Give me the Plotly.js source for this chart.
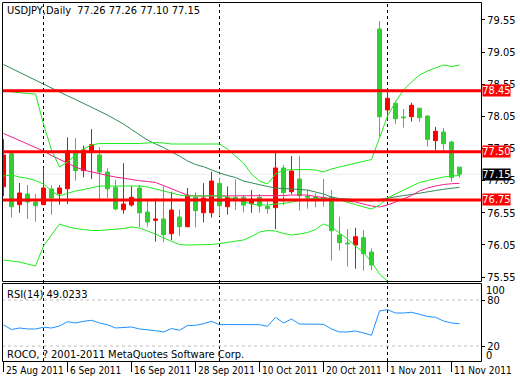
<!DOCTYPE html>
<html><head><meta charset="utf-8">
<script src="https://cdn.plot.ly/plotly-3.0.1.min.js"></script>
<style>html,body{margin:0;padding:0;background:#fff;}#chart{width:520px;height:380px;}</style>
</head><body><div id="chart"></div>
<script>
const dates = ['2011-08-25','2011-08-26','2011-08-29','2011-08-30','2011-08-31',
'2011-09-01','2011-09-02','2011-09-05','2011-09-06','2011-09-07','2011-09-08','2011-09-09',
'2011-09-12','2011-09-13','2011-09-14','2011-09-15','2011-09-16',
'2011-09-19','2011-09-20','2011-09-21','2011-09-22','2011-09-23',
'2011-09-26','2011-09-27','2011-09-28','2011-09-29','2011-09-30',
'2011-10-03','2011-10-04','2011-10-05','2011-10-06','2011-10-07',
'2011-10-10','2011-10-11','2011-10-12','2011-10-13','2011-10-14',
'2011-10-17','2011-10-18','2011-10-19','2011-10-20','2011-10-21',
'2011-10-24','2011-10-25','2011-10-26','2011-10-27','2011-10-28','2011-10-31',
'2011-11-01','2011-11-02','2011-11-03','2011-11-04',
'2011-11-07','2011-11-08','2011-11-09','2011-11-10','2011-11-11','2011-11-14'];

const open  = [76.955,77.469,76.676,76.842,76.717,76.676,76.920,76.847,76.924,77.500,
77.205,77.516,77.449,77.184,76.946,76.597,76.670,76.935,76.562,76.432,
76.453,76.224,76.484,76.333,76.790,76.550,76.550,77.008,76.644,76.790,
76.790,76.690,76.790,76.650,76.629,77.247,76.878,77.075,76.810,76.795,
76.790,76.790,76.204,76.079,76.048,76.162,75.939,79.410,78.149,78.254,
78.040,78.045,78.176,78.056,77.672,77.807,77.651,77.26];
const high  = [77.693,77.480,77.013,76.982,76.842,77.251,76.977,76.982,77.724,77.713,
77.594,77.853,77.573,77.242,77.060,77.320,76.966,76.982,76.764,76.775,
76.960,76.878,76.604,76.935,76.868,77.010,77.189,77.096,76.960,77.070,
76.826,76.904,76.842,76.744,77.485,77.293,77.433,77.433,76.904,76.850,
77.075,76.904,76.488,76.297,76.317,76.280,75.997,79.534,78.460,78.294,
78.165,78.263,78.185,78.067,77.885,77.869,77.667,77.26];
const low   = [76.810,76.479,76.550,76.453,76.410,76.670,76.520,76.676,76.686,77.049,
77.101,77.075,76.728,76.775,76.590,76.535,76.644,76.323,76.333,76.100,
76.090,76.126,76.190,76.323,76.323,76.400,76.473,76.499,76.520,76.593,
76.557,76.550,76.550,76.535,76.297,76.670,76.837,76.582,76.613,76.635,
76.644,75.804,75.960,75.710,75.680,75.648,75.659,77.734,77.990,77.931,
77.874,77.967,77.967,77.578,77.527,77.485,77.033,77.10];
const close = [77.449,76.644,76.857,76.717,76.660,76.935,76.780,76.935,77.516,77.205,
77.527,77.610,77.184,76.924,76.608,76.686,76.790,76.550,76.406,76.453,
76.208,76.593,76.333,76.815,76.582,76.780,77.044,76.660,76.790,76.770,
76.670,76.760,76.655,76.613,77.247,76.862,77.200,76.815,76.790,76.780,
76.760,76.270,76.084,76.068,76.177,75.913,75.737,78.045,78.331,78.014,
78.030,78.222,78.030,77.693,77.818,77.625,77.100,77.15];

const bbUpper = [78.445,78.429,78.422,78.406,78.398,77.931,77.527,77.262,77.340,77.449,
77.542,77.605,77.628,77.628,77.628,77.620,77.620,77.628,77.636,77.643,
77.636,77.620,77.620,77.620,77.620,77.620,77.628,77.620,77.542,77.433,
77.324,77.153,77.044,76.998,77.153,77.215,77.223,77.223,77.223,77.215,
77.184,77.231,77.262,77.293,77.324,77.356,77.379,77.713,78.056,78.274,
78.461,78.585,78.694,78.756,78.803,78.850,78.826,78.850];
const bbMiddle = [77.122,77.138,77.106,77.086,77.052,76.998,76.889,76.811,76.853,76.889,
76.912,76.943,76.966,76.966,76.966,76.959,76.966,76.966,76.951,76.920,
76.889,76.850,76.826,76.811,76.811,76.811,76.811,76.815,76.795,76.756,
76.717,76.686,76.671,76.671,76.686,76.694,76.717,76.741,76.764,76.772,
76.772,76.764,76.749,76.717,76.678,76.640,76.608,76.671,76.780,76.842,
76.904,76.966,77.021,77.052,77.083,77.106,77.122,77.130];
const bbLower = [75.815,75.799,75.783,75.752,75.721,76.033,76.204,76.375,76.333,76.305,
76.289,76.274,76.274,76.282,76.289,76.305,76.328,76.313,76.266,76.219,
76.157,76.103,76.056,76.048,76.048,76.048,76.056,76.071,76.087,76.103,
76.126,76.180,76.250,76.274,76.266,76.227,76.204,76.219,76.243,76.289,
76.375,76.328,76.235,76.142,76.033,75.931,75.783,75.597,75.488,75.41,
75.35,75.35,75.35,75.35,75.36,75.36,75.42,75.41];
const maSlow = [78.857,78.795,78.733,78.671,78.608,78.549,78.484,78.425,78.370,78.313,
78.254,78.196,78.126,78.071,78.001,77.931,77.846,77.760,77.682,77.620,
77.566,77.496,77.433,77.356,77.301,77.267,77.215,77.169,77.130,77.099,
77.044,77.013,76.982,76.959,76.935,76.928,76.920,76.912,76.904,76.873,
76.842,76.795,76.772,76.764,76.756,76.741,76.733,76.756,76.780,76.795,
76.818,76.834,76.857,76.881,76.896,76.915,76.931,76.946];
const maFast = [77.784,77.729,77.675,77.620,77.566,77.511,77.441,77.379,77.320,77.262,
77.215,77.184,77.153,77.130,77.106,77.086,77.060,77.049,77.036,77.021,
76.974,76.920,76.873,76.826,76.811,76.811,76.811,76.811,76.811,76.811,
76.811,76.818,76.818,76.811,76.811,76.818,76.826,76.826,76.826,76.803,
76.787,76.780,76.756,76.733,76.717,76.686,76.655,76.640,76.671,76.717,
76.764,76.818,76.889,76.935,76.966,76.990,77.002,77.008];
const rsi = [47.6,41.5,43.5,42.2,42.2,44.4,43.5,46.1,51.7,50.0,
52.2,53.5,50.0,47.8,43.5,44.4,44.8,42.2,41.3,40.0,
38.3,42.8,40.5,46.7,47.0,49.1,52.2,47.8,48.0,48.0,
47.8,47.8,47.8,45.7,57.4,50.0,55.2,48.7,48.3,48.3,
48.3,42.2,38.3,38.3,39.6,37.0,34.0,65.7,67.4,63.0,
63.0,64.0,61.1,58.5,57.4,52.6,50.0,49.0233];

const levels = [78.45, 77.50, 76.75];
const lastPrice = 77.15;
const separators = ['2011-09-01','2011-10-03','2011-11-01'];
const dateTicks = ['2011-08-25','2011-09-06','2011-09-16','2011-09-28','2011-10-10','2011-10-20','2011-11-01','2011-11-11'];
const dateTickText = ['25 Aug 2011','6 Sep 2011','16 Sep 2011','28 Sep 2011','10 Oct 2011','20 Oct 2011','1 Nov 2011','11 Nov 2011'];
const priceTicks = [75.55,76.05,76.55,77.05,77.55,78.05,78.55,79.05,79.55];
const rsiTicks = [80, 20];
const headerText = 'USDJPY,Daily  77.26 77.26 77.10 77.15';
const rsiText = 'RSI(14) 49.0233';
const copyText = 'ROCO, ? 2001-2011 MetaQuotes Software Corp.';

const FONT = "'Liberation Sans Narrow', 'DejaVu Sans Condensed', 'Liberation Sans', sans-serif";
const L = 2, T = 2, W = 479, H = 359;
const pX = x => (x - L) / W;
const pY = y => (T + H - y) / H;

const UP = '#FF0000', DOWN = '#32CD32', BB = '#1EEB1E';

const traces = [
  {type:'candlestick', x:dates, open:open, high:high, low:low, close:close,
   xaxis:'x', yaxis:'y', whiskerwidth:0, hoverinfo:'skip', showlegend:false,
   increasing:{line:{color:UP,width:1}, fillcolor:UP},
   decreasing:{line:{color:DOWN,width:1}, fillcolor:DOWN}},
  {type:'scatter', mode:'lines', x:dates, y:maSlow, line:{color:'#2E8B57',width:1}, xaxis:'x', yaxis:'y', hoverinfo:'skip', showlegend:false},
  {type:'scatter', mode:'lines', x:dates, y:maFast, line:{color:'#F0208A',width:1}, xaxis:'x', yaxis:'y', hoverinfo:'skip', showlegend:false},
  {type:'scatter', mode:'lines', x:dates, y:bbUpper, line:{color:BB,width:1}, xaxis:'x', yaxis:'y', hoverinfo:'skip', showlegend:false},
  {type:'scatter', mode:'lines', x:dates, y:bbMiddle, line:{color:BB,width:1}, xaxis:'x', yaxis:'y', hoverinfo:'skip', showlegend:false},
  {type:'scatter', mode:'lines', x:dates, y:bbLower, line:{color:BB,width:1}, xaxis:'x', yaxis:'y', hoverinfo:'skip', showlegend:false},
  {type:'scatter', mode:'lines', x:dates, y:rsi, line:{color:'#1E90FF',width:1}, xaxis:'x', yaxis:'y2', hoverinfo:'skip', showlegend:false}
];

const shapes = [];
separators.forEach(d => shapes.push({type:'line', xref:'x', yref:'paper', x0:d, x1:d, y0:pY(361), y1:pY(2),
  line:{color:'#000', width:1, dash:'3px,3px'}, layer:'below'}));
shapes.push({type:'line', xref:'paper', yref:'y', x0:0, x1:1, y0:lastPrice, y1:lastPrice, line:{color:'#ECECEC', width:1}, layer:'below'});
rsiTicks.forEach(v => shapes.push({type:'line', xref:'paper', yref:'y2', x0:0, x1:1, y0:v, y1:v,
  line:{color:'#C0C0C0', width:1, dash:'3px,3px'}, layer:'below'}));
levels.forEach(v => shapes.push({type:'line', xref:'paper', yref:'y', x0:0, x1:1, y0:v, y1:v,
  line:{color:'#FF0000', width:3}, layer:'above'}));
shapes.push({type:'rect', xref:'paper', yref:'paper', x0:pX(2.5), x1:pX(481.5), y0:pY(281.5), y1:pY(2.5), line:{color:'#000', width:1}, layer:'above'});
shapes.push({type:'rect', xref:'paper', yref:'paper', x0:pX(2.5), x1:pX(481.5), y0:pY(361.5), y1:pY(283.5), line:{color:'#000', width:1}, layer:'above'});

const annotations = [];
const txt = (text, x, y, extra) => Object.assign({text:text, xref:'paper', yref:'paper', x:pX(x), y:pY(y),
  xanchor:'left', yanchor:'middle', showarrow:false, font:{family:FONT, size:11, color:'#000'}}, extra || {});
annotations.push(txt(headerText, 5, 11));
annotations.push(txt(rsiText, 5, 294.5));
annotations.push(txt(copyText, 5, 354.5));
annotations.push(txt('100', 484, 290.5));
annotations.push(txt('0', 484, 355.5));
levels.forEach(v => annotations.push({text:v.toFixed(2), xref:'paper', yref:'y', x:pX(482), y:v, xanchor:'left', yanchor:'middle',
  showarrow:false, bgcolor:'#FF0000', borderpad:0, width:27, height:11, align:'center', font:{family:FONT, size:11, color:'#fff'}}));
annotations.push({text:lastPrice.toFixed(2), xref:'paper', yref:'y', x:pX(482), y:lastPrice, xanchor:'left', yanchor:'middle',
  showarrow:false, bgcolor:'#000', borderpad:0, width:27, height:11, align:'center', font:{family:FONT, size:11, color:'#fff'}});

const tickFont = {family:FONT, size:11, color:'#000'};
const layout = {
  width:520, height:380, margin:{l:L, r:520-L-W, t:T, b:380-T-H, pad:0},
  paper_bgcolor:'#fff', plot_bgcolor:'#fff', showlegend:false,
  xaxis:{type:'category', categoryorder:'array', categoryarray:dates, range:[-0.1875, 59.6875],
    anchor:'y2', domain:[0,1], showgrid:false, zeroline:false, showline:false,
    tickmode:'array', tickvals:dateTicks, ticktext:dateTickText, tickangle:0, ticks:'outside', ticklen:10,
    tickcolor:'#000', tickwidth:1, ticklabelposition:'outside right', ticklabelstandoff:0, ticklabelshift:2,
    tickfont:{family:FONT, size:10, color:'#000'}, rangeslider:{visible:false}, fixedrange:true},
  yaxis:{domain:[80/359, 1], range:[75.488, 79.830], side:'right', anchor:'x',
    showgrid:false, zeroline:false, showline:false, tickmode:'array', tickvals:priceTicks,
    ticktext:priceTicks.map(v => v.toFixed(2)), ticks:'outside', ticklen:3, tickcolor:'#000', tickfont:tickFont, fixedrange:true},
  yaxis2:{domain:[0, 78/359], range:[0.43, 102.17], side:'right', anchor:'x',
    showgrid:false, zeroline:false, showline:false, tickmode:'array', tickvals:rsiTicks,
    ticktext:rsiTicks.map(String), ticks:'outside', ticklen:3, tickcolor:'#000', tickfont:tickFont, fixedrange:true},
  boxgap:0.5, boxgroupgap:0,
  shapes:shapes, annotations:annotations
};
Plotly.newPlot('chart', traces, layout, {displayModeBar:false, staticPlot:true});
</script></body></html>
